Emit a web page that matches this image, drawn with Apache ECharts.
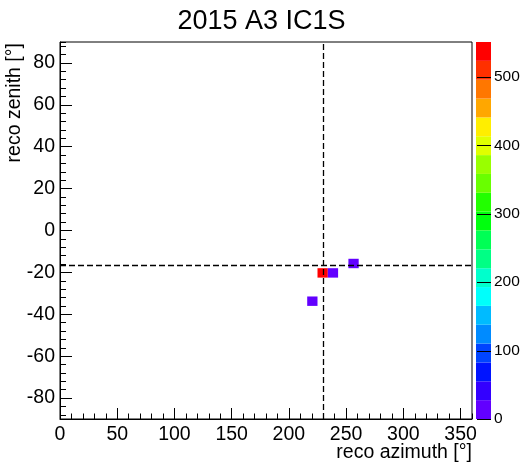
<!DOCTYPE html>
<html>
<head>
<meta charset="utf-8">
<script src="https://cdn.jsdelivr.net/npm/echarts@6/dist/echarts.min.js"></script>
<style>
  html, body { margin: 0; padding: 0; background: #fff; }
  #chart { width: 523px; height: 465px; }
</style>
</head>
<body>
<div id="chart"></div>
<script>
// 2D histogram of reconstructed direction: 40 x 40 bins over azimuth [0,360] x zenith [-90,90]
const azimuthBinWidth = 9;     // degrees
const zenithBinWidth = 4.5;    // degrees
const binAzimuthLow = [216, 225, 234, 252];
const binZenithLow = [-36, -22.5, -22.5, -18];
const binCounts = [2, 551, 3, 4];

// reference direction, drawn as a dashed cross
const refAzimuth = 229.8;
const refZenith = -16.5;

// colour scale (z axis)
const zMin = 0;
const zMax = 551;
const zTicks = [0, 100, 200, 300, 400, 500];

// 20-contour rainbow palette, violet -> red
const palette = [
  '#6200ff', '#3300ff', '#0014ff', '#0044ff', '#008bff',
  '#00bbff', '#00fffb', '#00ffcc', '#00ff85', '#00ff55',
  '#00ff0e', '#22ff00', '#69ff00', '#99ff00', '#e0ff00',
  '#ffee00', '#ffa700', '#ff7700', '#ff3000', '#ff0000'
];

const FONT = '"Liberation Sans", Arial, Helvetica, sans-serif';

const bins = binAzimuthLow.map((a, i) => [
  a, a + azimuthBinWidth, binZenithLow[i], binZenithLow[i] + zenithBinWidth, binCounts[i]
]);

const bandStep = (zMax - zMin) / palette.length;
const bands = palette.map((c, k) => [zMin + k * bandStep, zMin + (k + 1) * bandStep, k]);
const pieces = bands.map((b, k) =>
  k === bands.length - 1
    ? { gte: b[0], lte: b[1], color: palette[k] }
    : { gte: b[0], lt: b[1], color: palette[k] }
);

const chart = echarts.init(document.getElementById('chart'), null, { renderer: 'canvas' });

const tickStyle = { color: '#000', width: 1 };

const option = {
  animation: false,
  backgroundColor: '#fff',
  textStyle: { fontFamily: FONT, color: '#000' },
  title: {
    text: '2015 A3 IC1S',
    left: 'center',
    top: 3,
    textStyle: { fontFamily: FONT, fontSize: 27, fontWeight: 'normal', color: '#000' }
  },
  grid: [
    { left: 60, top: 42, width: 412, height: 377, show: true, borderColor: '#000', borderWidth: 1, backgroundColor: 'transparent' },
    { left: 476, top: 42, width: 15, height: 377 }
  ],
  visualMap: {
    type: 'piecewise',
    show: false,
    dimension: 4,
    seriesIndex: 0,
    pieces: pieces
  },
  xAxis: [
    {
      gridIndex: 0, type: 'value', min: 0, max: 360, interval: 50, position: 'bottom',
      axisLine: { onZero: false, lineStyle: { color: '#000', width: 1 } },
      axisTick: { inside: true, length: 11, lineStyle: tickStyle },
      axisLabel: { showMaxLabel: false, color: '#000', fontSize: 19.5, fontFamily: FONT, margin: 6 },
      splitLine: { show: false }
    },
    {
      // secondary (minor) ticks every 10 degrees
      gridIndex: 0, type: 'value', min: 0, max: 360, minInterval: 10, maxInterval: 10, position: 'bottom',
      axisLine: { show: false, onZero: false },
      axisTick: { inside: true, length: 5.5, lineStyle: tickStyle },
      axisLabel: { show: false },
      splitLine: { show: false }
    },
    {
      gridIndex: 1, type: 'value', min: 0, max: 1, show: false
    }
  ],
  yAxis: [
    {
      gridIndex: 0, type: 'value', min: -90, max: 90, minInterval: 20, maxInterval: 20, position: 'left',
      axisLine: { onZero: false, lineStyle: { color: '#000', width: 1 } },
      axisTick: { inside: true, length: 12, lineStyle: tickStyle },
      axisLabel: { showMinLabel: false, showMaxLabel: false, color: '#000', fontSize: 19.5, fontFamily: FONT, margin: 5 },
      splitLine: { show: false }
    },
    {
      // secondary (minor) ticks every 4 degrees
      gridIndex: 0, type: 'value', min: -90, max: 90, minInterval: 4, maxInterval: 4, position: 'left',
      axisLine: { show: false, onZero: false },
      axisTick: { inside: true, length: 6, lineStyle: tickStyle },
      axisLabel: { show: false },
      splitLine: { show: false }
    },
    {
      gridIndex: 1, type: 'value', min: zMin, max: zMax, interval: 100, position: 'right',
      axisLine: { show: false },
      axisTick: { show: false },
      axisLabel: { showMaxLabel: false, color: '#000', fontSize: 15.5, fontFamily: FONT, margin: 3 },
      splitLine: { show: false }
    }
  ],
  series: [
    {
      name: 'counts',
      type: 'custom',
      xAxisIndex: 0,
      yAxisIndex: 0,
      data: bins,
      encode: { x: [0, 1], y: [2, 3] },
      clip: true,
      renderItem: function (params, api) {
        const p0 = api.coord([api.value(0), api.value(3)]);
        const p1 = api.coord([api.value(1), api.value(2)]);
        return {
          type: 'rect',
          shape: { x: p0[0], y: p0[1], width: p1[0] - p0[0], height: p1[1] - p0[1] },
          style: { fill: api.visual('color') }
        };
      },
      markLine: {
        silent: true,
        symbol: ['none', 'none'],
        label: { show: false },
        lineStyle: { color: '#000', type: [6, 3], width: 1.3 },
        data: [{ xAxis: refAzimuth }, { yAxis: refZenith }]
      }
    },
    {
      name: 'palette',
      type: 'custom',
      xAxisIndex: 2,
      yAxisIndex: 2,
      data: bands,
      encode: { y: [0, 1] },
      silent: true,
      renderItem: function (params, api) {
        const top = api.coord([0, api.value(1)]);
        const bottom = api.coord([1, api.value(0)]);
        return {
          type: 'rect',
          shape: { x: top[0], y: top[1], width: bottom[0] - top[0], height: bottom[1] - top[1] },
          style: { fill: palette[api.value(2)] }
        };
      }
    },
    {
      name: 'palette ticks',
      type: 'custom',
      xAxisIndex: 2,
      yAxisIndex: 2,
      data: zTicks.map(v => [v]),
      encode: { y: 0 },
      silent: true,
      z: 3,
      renderItem: function (params, api) {
        const a = api.coord([0, api.value(0)]);
        const b = api.coord([1, api.value(0)]);
        return {
          type: 'line',
          shape: { x1: a[0] + 1, y1: Math.round(a[1]) + 0.5, x2: b[0], y2: Math.round(b[1]) + 0.5 },
          style: { stroke: '#000', lineWidth: 1 }
        };
      }
    }
  ],
  graphic: [
    {
      type: 'text',
      x: 472, y: 453,
      style: { text: 'reco azimuth [°]', align: 'right', verticalAlign: 'middle', font: '19.5px ' + FONT, fill: '#000' }
    },
    {
      type: 'text',
      x: 15, y: 43,
      rotation: Math.PI / 2,
      style: { text: 'reco zenith [°]', align: 'right', verticalAlign: 'middle', font: '19.5px ' + FONT, fill: '#000' }
    }
  ]
};

chart.setOption(option);
</script>
</body>
</html>
